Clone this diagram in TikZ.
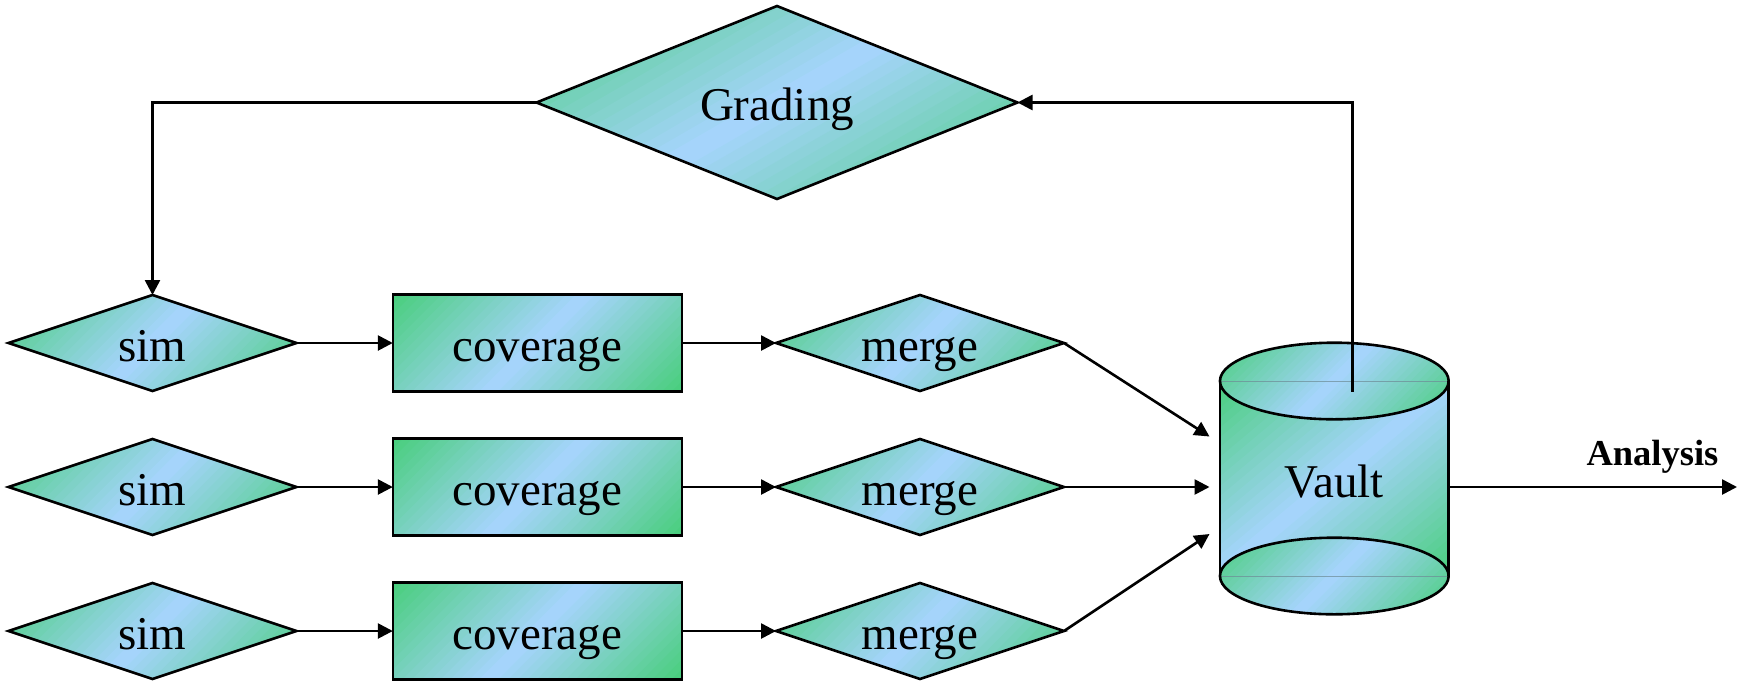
\documentclass[tikz,border=0pt]{standalone}
\usepackage{fontspec}
\setmainfont{Liberation Serif}
\usetikzlibrary{shapes.geometric,arrows.meta}
\pgfdeclarelayer{background}
\pgfsetlayers{background,main}
\definecolor{cg}{RGB}{72,206,124}
\definecolor{cb}{RGB}{168,212,255}
\definecolor{rimline}{RGB}{110,140,150}

% green-blue-green band fill built from thin stripes
% #1 clip path, #2 centre, #3 axis angle, #4 half range of the band
\newcommand\gradfill[4]{%
  \begin{scope}
    \clip #1;
    \begin{scope}[shift={#2}, rotate=#3]
      \fill[cg] (-400,-400) rectangle (400,400);
      \foreach \k in {0,...,39} {
        \pgfmathtruncatemacro\f{100*(1-abs(-1+(\k+0.5)/20))}
        \fill[cb!\f!cg] ({-#4+\k*#4/20},-400) rectangle ({-#4+(\k+1)*#4/20+0.8},400);
      }
    \end{scope}
  \end{scope}}
\newcommand\diafill[3]{\gradfill{(#1.north) -- (#1.east) -- (#1.south) -- (#1.west) -- cycle}{(#1.center)}{#2}{#3}}
\newcommand\boxfill[3]{\gradfill{(#1.north west) rectangle (#1.south east)}{(#1.center)}{#2}{#3}}

\begin{document}
\begin{tikzpicture}[x=1pt, y=-1pt, line width=2.6pt,
  conn/.style={line width=2.6pt, -{Triangle[length=15pt,width=15pt]}},
  lbl/.style={font=\fontsize{47}{50}\selectfont, text height=36pt, text depth=0pt,
              inner sep=0pt, outer sep=0pt, draw, line width=2.6pt},
  dia/.style={lbl, diamond, aspect=2.5, minimum width=288pt, minimum height=96pt},
  box/.style={lbl, rectangle, minimum width=289pt, minimum height=97pt},
  outline/.style={line width=2.6pt},
  rim/.style={rimline, line width=1pt, opacity=0.7}]
\useasboundingbox (0,0) rectangle (1745,681);

% decision node at the top
\node[lbl, diamond, aspect=2.5, minimum width=481pt, minimum height=193pt] (grading) at (777,102.5) {Grading};

% three pipelines
\foreach \i/\y in {1/343, 2/487, 3/631} {
  \node[dia] (sim\i) at (152.5,\y) {sim};
  \node[box] (cov\i) at (537.3,\y) {coverage};
  \node[dia] (merge\i) at (920,\y) {merge};
}

% storage cylinder
\node[font=\fontsize{47}{50}\selectfont, text height=37.6pt, text depth=0pt, inner sep=0pt,
      outer sep=0pt, minimum width=228.7pt, minimum height=271.6pt] (vault) at (1334.3,478.5) {Vault};
\path (vault.north) ++(0,38.3) coordinate (vt);
\path (vault.south) ++(0,-38.3) coordinate (vb);

% gradient fills
\begin{pgfonlayer}{background}
  \diafill{grading}{-60}{204}
  \foreach \i in {1,2,3} {
    \diafill{sim\i}{-45}{136}
    \boxfill{cov\i}{-45}{136}
    \diafill{merge\i}{-45}{136}
  }
  \gradfill{(vt) ++(-114.35,0) -- ++(0,195) arc[start angle=180,end angle=0,x radius=114.35,y radius=38.3] -- ++(0,-195) -- cycle}{(vault.center)}{-50}{150}
  \gradfill{(vb) ellipse [x radius=114.35, y radius=38.3]}{(vb)}{-45}{108}
  \gradfill{(vt) ellipse [x radius=114.35, y radius=38.3]}{(vt)}{-45}{108}
  \draw[rim] (vt) ++(-114.35,0) -- ++(228.7,0);
  \draw[rim] (vb) ++(-114.35,0) -- ++(228.7,0);
\end{pgfonlayer}

% cylinder outline
\draw[outline] (vt) ++(-114.35,0) -- ++(0,195);
\draw[outline] (vt) ++(114.35,0) -- ++(0,195);
\draw[outline] (vb) ellipse [x radius=114.35, y radius=38.3];
\draw[outline] (vt) ellipse [x radius=114.35, y radius=38.3];

% connectors along each pipeline
\foreach \i in {1,2,3} {
  \draw[conn] (sim\i.east) -- (cov\i.west);
  \draw[conn] (cov\i.east) -- (merge\i.west);
}
\coordinate (in1) at (1209.5,436.5);
\coordinate (in2) at (1209.5,487);
\coordinate (in3) at (1209.5,534);
\draw[conn] (merge1.east) -- (in1);
\draw[conn] (merge2.east) -- (in2);
\draw[conn] (merge3.east) -- (in3);

% feedback loop through grading
\coordinate (vtap) at (1352.7,391.7);
\draw[conn] (vtap) |- (grading.east);
\draw[conn] (grading.west) -| (sim1.north);

% output
\coordinate (vout) at (1448.7,487);
\coordinate (aend) at (1737,487);
\draw[conn] (vout) -- (aend);
\node[font=\bfseries\fontsize{36.5}{40}\selectfont, anchor=base, inner sep=0pt] (analysis) at (1652.5,465) {Analysis};
\end{tikzpicture}
\end{document}
